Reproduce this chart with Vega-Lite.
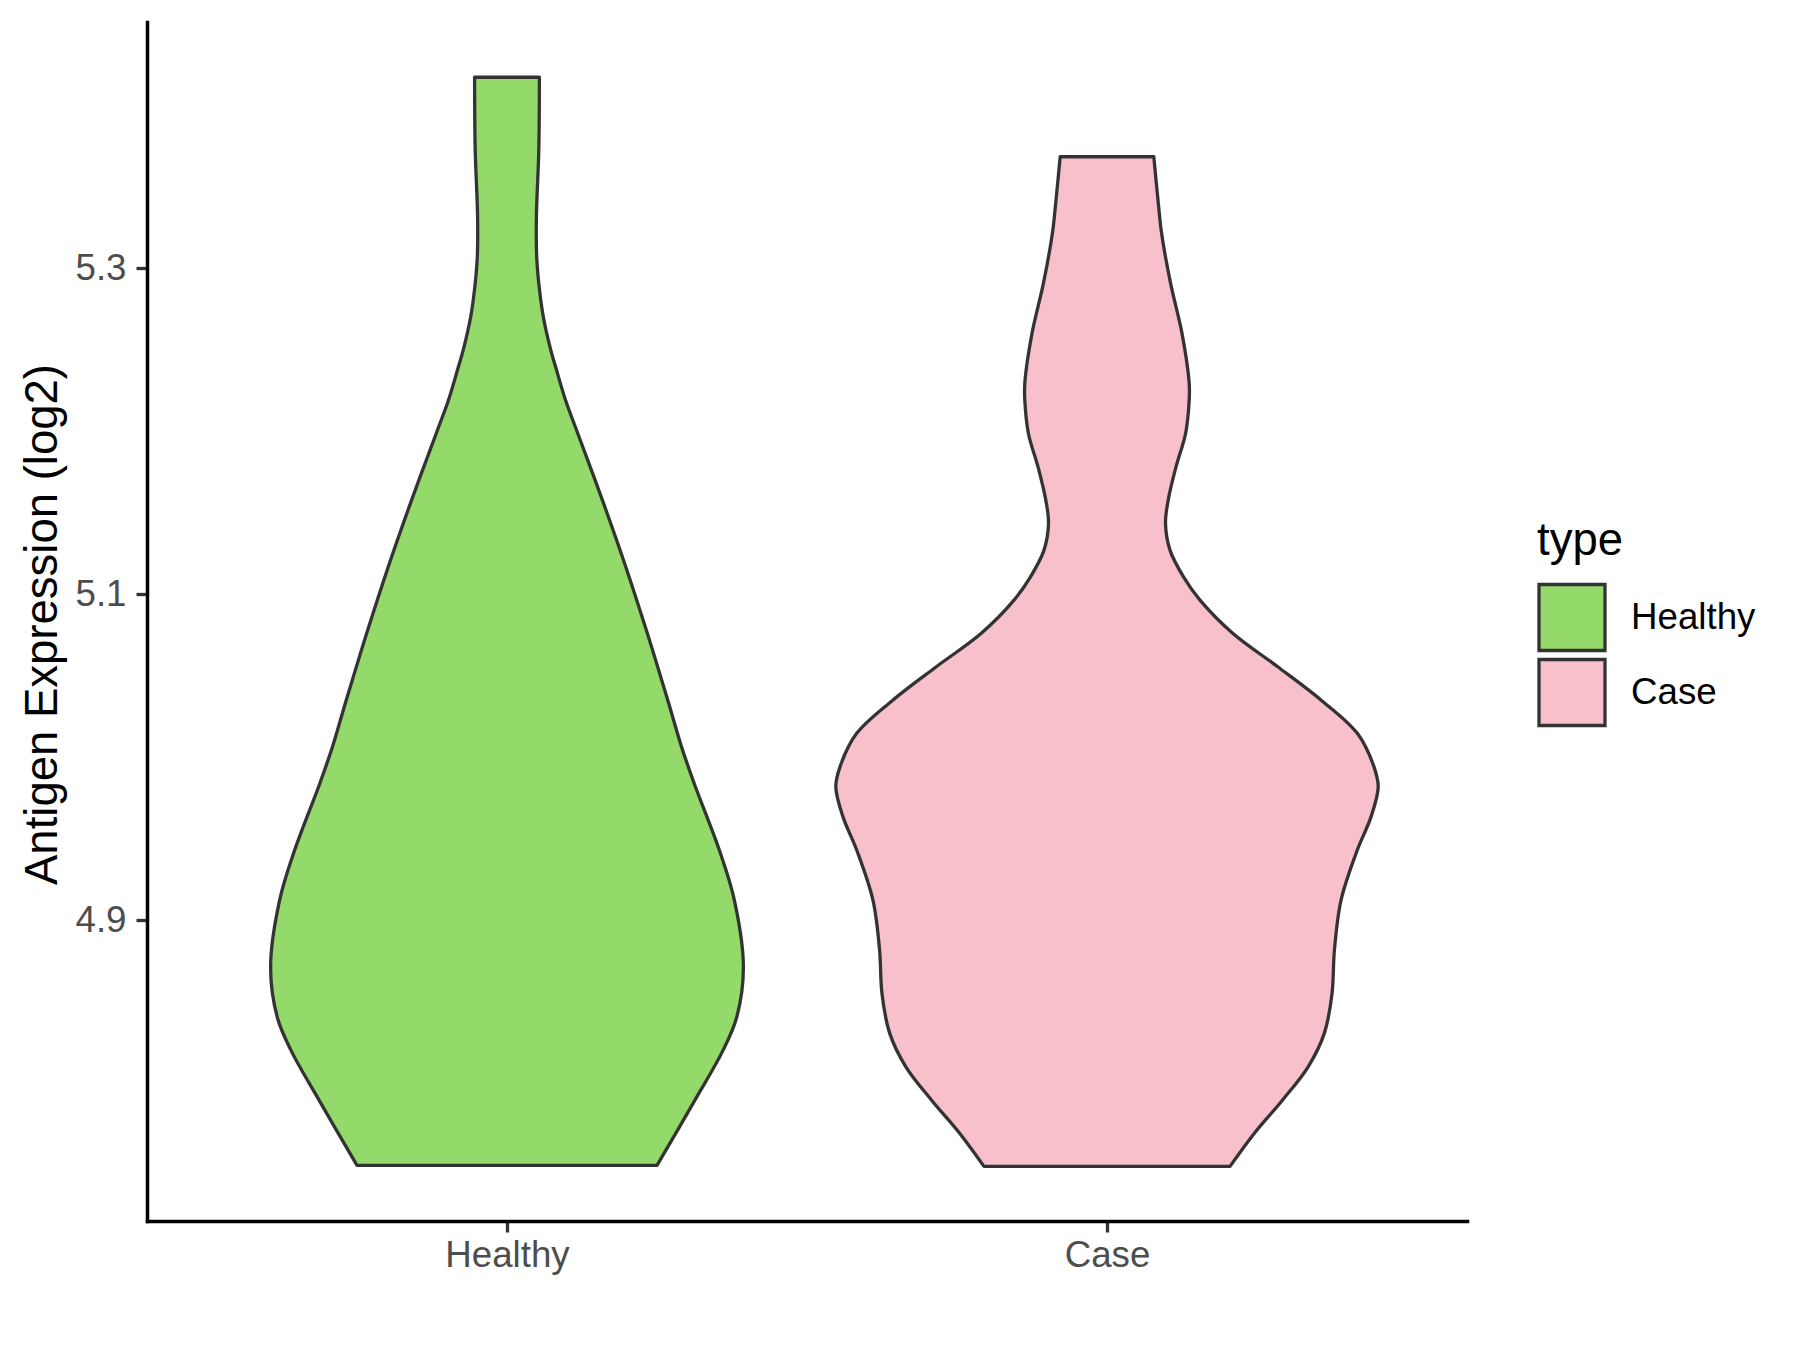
{
  "$schema": "https://vega.github.io/schema/vega-lite/v6.json",
  "width": 1320,
  "height": 1199,
  "autosize": {"type": "none"},
  "padding": {"left": 147, "top": 22, "right": 333, "bottom": 129},
  "background": "white",
  "config": {"view": {"stroke": null}, "font": "Liberation Sans"},
  "data": {"values": [
    {"type": "Healthy", "expr": 4.7495, "lo": 0.750, "hi": 1.250},
    {"type": "Healthy", "expr": 4.7894, "lo": 0.687, "hi": 1.313},
    {"type": "Healthy", "expr": 4.8201, "lo": 0.640, "hi": 1.360},
    {"type": "Healthy", "expr": 4.8406, "lo": 0.617, "hi": 1.383},
    {"type": "Healthy", "expr": 4.8713, "lo": 0.606, "hi": 1.394},
    {"type": "Healthy", "expr": 4.9122, "lo": 0.621, "hi": 1.379},
    {"type": "Healthy", "expr": 4.9429, "lo": 0.646, "hi": 1.354},
    {"type": "Healthy", "expr": 4.9839, "lo": 0.688, "hi": 1.312},
    {"type": "Healthy", "expr": 5.0063, "lo": 0.709, "hi": 1.291},
    {"type": "Healthy", "expr": 5.0350, "lo": 0.732, "hi": 1.268},
    {"type": "Healthy", "expr": 5.0759, "lo": 0.766, "hi": 1.234},
    {"type": "Healthy", "expr": 5.1168, "lo": 0.802, "hi": 1.198},
    {"type": "Healthy", "expr": 5.1578, "lo": 0.841, "hi": 1.159},
    {"type": "Healthy", "expr": 5.1987, "lo": 0.882, "hi": 1.118},
    {"type": "Healthy", "expr": 5.2192, "lo": 0.9025, "hi": 1.0975},
    {"type": "Healthy", "expr": 5.2396, "lo": 0.919, "hi": 1.081},
    {"type": "Healthy", "expr": 5.2498, "lo": 0.927, "hi": 1.073},
    {"type": "Healthy", "expr": 5.2703, "lo": 0.9395, "hi": 1.0605},
    {"type": "Healthy", "expr": 5.2908, "lo": 0.947, "hi": 1.053},
    {"type": "Healthy", "expr": 5.3071, "lo": 0.9505, "hi": 1.0495},
    {"type": "Healthy", "expr": 5.3317, "lo": 0.951, "hi": 1.049},
    {"type": "Healthy", "expr": 5.3726, "lo": 0.947, "hi": 1.053},
    {"type": "Healthy", "expr": 5.4173, "lo": 0.946, "hi": 1.054},
    {"type": "Case", "expr": 4.7489, "lo": 1.795, "hi": 2.205},
    {"type": "Case", "expr": 4.7690, "lo": 1.755, "hi": 2.245},
    {"type": "Case", "expr": 4.7894, "lo": 1.708, "hi": 2.292},
    {"type": "Case", "expr": 4.8099, "lo": 1.665, "hi": 2.335},
    {"type": "Case", "expr": 4.8304, "lo": 1.638, "hi": 2.362},
    {"type": "Case", "expr": 4.8549, "lo": 1.625, "hi": 2.375},
    {"type": "Case", "expr": 4.8815, "lo": 1.621, "hi": 2.379},
    {"type": "Case", "expr": 4.9122, "lo": 1.610, "hi": 2.390},
    {"type": "Case", "expr": 4.9429, "lo": 1.583, "hi": 2.417},
    {"type": "Case", "expr": 4.9634, "lo": 1.560, "hi": 2.440},
    {"type": "Case", "expr": 4.9818, "lo": 1.548, "hi": 2.452},
    {"type": "Case", "expr": 4.9941, "lo": 1.555, "hi": 2.445},
    {"type": "Case", "expr": 5.0145, "lo": 1.5825, "hi": 2.4175},
    {"type": "Case", "expr": 5.0350, "lo": 1.643, "hi": 2.357},
    {"type": "Case", "expr": 5.0554, "lo": 1.715, "hi": 2.285},
    {"type": "Case", "expr": 5.0759, "lo": 1.790, "hi": 2.210},
    {"type": "Case", "expr": 5.0964, "lo": 1.845, "hi": 2.155},
    {"type": "Case", "expr": 5.1107, "lo": 1.8725, "hi": 2.1275},
    {"type": "Case", "expr": 5.1271, "lo": 1.895, "hi": 2.105},
    {"type": "Case", "expr": 5.1435, "lo": 1.9025, "hi": 2.0975},
    {"type": "Case", "expr": 5.1578, "lo": 1.898, "hi": 2.102},
    {"type": "Case", "expr": 5.1782, "lo": 1.885, "hi": 2.115},
    {"type": "Case", "expr": 5.1987, "lo": 1.869, "hi": 2.131},
    {"type": "Case", "expr": 5.2191, "lo": 1.863, "hi": 2.137},
    {"type": "Case", "expr": 5.2294, "lo": 1.863, "hi": 2.137},
    {"type": "Case", "expr": 5.2601, "lo": 1.875, "hi": 2.125},
    {"type": "Case", "expr": 5.2908, "lo": 1.894, "hi": 2.106},
    {"type": "Case", "expr": 5.3215, "lo": 1.909, "hi": 2.091},
    {"type": "Case", "expr": 5.3419, "lo": 1.915, "hi": 2.085},
    {"type": "Case", "expr": 5.3685, "lo": 1.922, "hi": 2.078}
  ]},
  "mark": {"type": "area", "orient": "horizontal", "interpolate": "catmull-rom", "stroke": "#333333", "strokeWidth": 3.3, "opacity": 1, "strokeJoin": "round"},
  "encoding": {
    "y": {
      "field": "expr", "type": "quantitative",
      "scale": {"domain": [4.7154, 5.4512], "nice": false, "zero": false},
      "axis": {
        "values": [4.9, 5.1, 5.3], "format": ".1f", "grid": false,
        "domainColor": "black", "domainWidth": 3.5, "domainCap": "square",
        "tickColor": "#333333", "tickWidth": 3.3, "tickSize": 11,
        "labelColor": "#4D4D4D", "labelFontSize": 36.7, "labelFont": "Liberation Sans", "labelPadding": 10,
        "title": "Antigen Expression (log2)", "titleFont": "Liberation Sans", "titleFontSize": 45.5, "titleFontWeight": "normal", "titleColor": "black",
        "titleAngle": -90, "titleX": -91, "titleY": 602, "titleAlign": "center", "titleBaseline": "alphabetic"
      }
    },
    "x": {
      "field": "lo", "type": "quantitative", "stack": null,
      "scale": {"domain": [0.4, 2.6], "nice": false, "zero": false},
      "axis": {
        "values": [1, 2], "labelExpr": "datum.value == 1 ? 'Healthy' : 'Case'", "grid": false, "title": null,
        "domainColor": "black", "domainWidth": 3.5, "domainCap": "square",
        "tickColor": "#333333", "tickWidth": 3.3, "tickSize": 11,
        "labelColor": "#4D4D4D", "labelFontSize": 36.7, "labelFont": "Liberation Sans", "labelPadding": 5
      }
    },
    "x2": {"field": "hi"},
    "color": {
      "field": "type", "type": "nominal",
      "scale": {"domain": ["Healthy", "Case"], "range": ["#94DA6A", "#F7C0CB"]},
      "legend": {
        "orient": "none", "legendX": 1390, "legendY": 497, "padding": 0,
        "title": "type", "titleFont": "Liberation Sans", "titleFontSize": 45.5, "titleFontWeight": "normal", "titleColor": "black", "titlePadding": 18, "titleAnchor": "start",
        "labelFont": "Liberation Sans", "labelFontSize": 36.7, "labelColor": "black", "labelOffset": 24,
        "symbolType": "square", "symbolSize": 4356, "symbolStrokeWidth": 3.3, "symbolStrokeColor": "#333333", "symbolOpacity": 1, "rowPadding": -9
      }
    }
  }
}
